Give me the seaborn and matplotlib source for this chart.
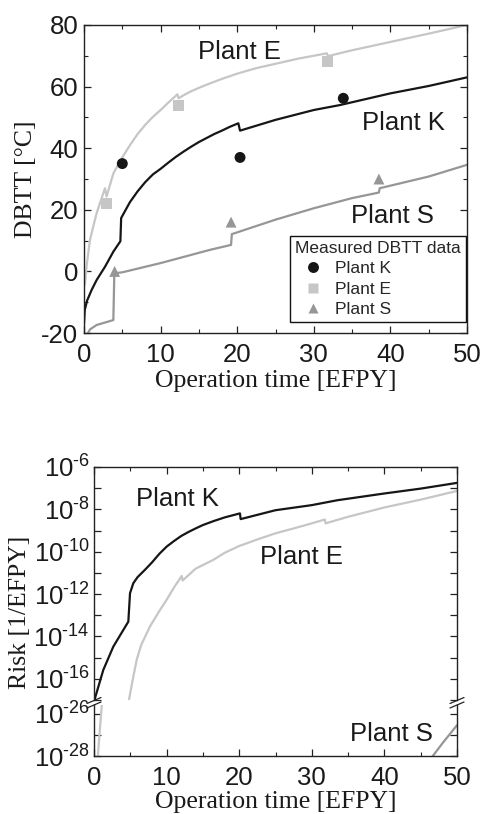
import numpy as np
import pandas as pd
import seaborn as sns
import matplotlib.pyplot as plt
from matplotlib.ticker import MultipleLocator, FixedLocator, FuncFormatter
from matplotlib.lines import Line2D

# ---- DBTT curves (top panel) ----
time_k = [0, 0.1, 0.4, 1.0, 1.65, 2.74, 3.83, 4.75, 4.85, 5.0, 6.0, 7.0, 8.0, 9.0, 10.0, 11.0,
          12.0, 13.0, 14.0, 15.0, 16.0, 17.0, 18.0, 19.0, 20.15, 20.37, 25.0, 30.0, 33.4, 40.0,
          45.0, 50.0]
dbtt_k = [-17, -12.5, -9.5, -6.0, -2.8, 1.5, 6.4, 9.8, 17.3, 18.0, 22.5, 26.0, 29.0, 31.5, 33.3,
          35.3, 37.2, 38.9, 40.5, 42.0, 43.3, 44.6, 45.7, 46.9, 48.1, 45.7, 49.2, 52.4, 54.0, 57.8,
          60.2, 63.0]

time_e = [0, 0.13, 0.4, 0.78, 1.2, 1.65, 2.2, 2.74, 2.95, 3.83, 4.92, 6.0, 7.0, 8.0, 9.0, 10.0,
          11.0, 12.2, 12.35, 13.0, 14.0, 15.0, 16.0, 18.0, 20.0, 22.5, 25.0, 28.0, 31.7, 31.85,
          35.0, 40.0, 45.0, 50.0]
dbtt_e = [-5, -3.9, 3.0, 10.2, 14.5, 18.9, 23.0, 27.0, 24.3, 31.8, 36.7, 41.0, 44.6, 47.6, 50.2,
          52.4, 54.8, 57.5, 56.2, 57.2, 58.5, 59.6, 60.6, 62.5, 64.2, 66.0, 67.4, 69.1, 70.8, 69.9,
          71.8, 74.5, 77.2, 80.0]

time_s = [0.4, 0.8, 1.65, 3.83, 3.96, 5.0, 10.0, 16.45, 19.2, 19.3, 25.0, 30.0, 35.0, 38.5, 38.6,
          45.0, 50.0]
dbtt_s = [-20.5, -18.8, -17.4, -15.8, -0.6, -0.3, 2.7, 7.0, 8.6, 12.1, 16.8, 20.5, 23.8, 25.6, 27.0,
          30.8, 34.6]

# measured DBTT data
meas_plant = ["Plant K"] * 3 + ["Plant E"] * 3 + ["Plant S"] * 3
meas_time = [5.0, 20.37, 33.85, 2.9, 12.3, 31.8, 4.0, 19.2, 38.5]
meas_dbtt = [35.0, 37.0, 56.2, 22.0, 54.0, 68.0, 0.0, 16.0, 30.0]

# ---- Risk curves (bottom panel), log10 of risk [1/EFPY] ----
rtime_k = [0.0, 0.14, 1.28, 2.66, 4.73, 4.96, 5.41, 6.0, 7.0, 8.0, 9.0, 10.0, 11.0, 12.0, 13.0,
           14.0, 15.0, 16.5, 18.0, 20.1, 20.2, 25.0, 30.0, 33.5, 40.0, 45.0, 50.0]
rlog_k = [-18.0, -16.91, -15.58, -14.48, -13.3, -11.96, -11.49, -11.2, -10.86, -10.5, -10.1, -9.76,
          -9.5, -9.26, -9.07, -8.9, -8.74, -8.55, -8.38, -8.19, -8.46, -8.04, -7.80, -7.57, -7.25,
          -7.02, -6.75]

rtime_e = [0.45, 0.75, 1.1, 4.73, 5.3, 5.88, 6.5, 7.71, 9.0, 10.0, 11.0, 12.08, 12.2, 14.0, 16.4,
           18.0, 20.0, 22.5, 25.0, 27.5, 30.0, 31.8, 31.9, 35.0, 40.0, 45.0, 50.0]
rlog_e = [-28.4, -27.0, -25.5, -17.15, -16.1, -15.1, -14.4, -13.53, -12.8, -12.27, -11.7, -11.14,
          -11.36, -10.8, -10.39, -10.05, -9.73, -9.42, -9.13, -8.9, -8.66, -8.48, -8.66, -8.35,
          -7.91, -7.54, -7.13]

rtime_s = [46.0, 48.0, 50.0]
rlog_s = [-28.3, -27.4, -26.55]

col_k = "#161616"
col_e = "#c6c6c6"
col_s = "#969696"

sns.set_style("ticks", rc={"xtick.direction": "in", "ytick.direction": "in",
                           "xtick.top": True, "ytick.right": True})
plt.rcParams["font.family"] = ["Liberation Sans", "DejaVu Sans"]
plt.rcParams["mathtext.fontset"] = "custom"
plt.rcParams["mathtext.rm"] = "Liberation Sans"
plt.rcParams["mathtext.default"] = "regular"
plt.rcParams["axes.unicode_minus"] = False
plt.rcParams["axes.linewidth"] = 1.0
plt.rcParams["axes.edgecolor"] = "#222222"

W, H = 483, 814
fig = plt.figure(figsize=(W / 100, H / 100), dpi=100)


def rect(l, t, r, b):
    return [l / W, 1 - b / H, (r - l) / W, (b - t) / H]


def style_ticks(ax, size=18.5):
    ax.tick_params(which="both", direction="in", top=True, right=True, colors="#222222",
                   labelsize=size, labelcolor="#1a1a1a")
    ax.tick_params(which="major", length=5, width=0.9)
    ax.tick_params(which="minor", length=3, width=0.8)


serif = ["Liberation Serif", "DejaVu Serif"]
fs_lab = 18.5
fs_txt = 18.5

# ================= top panel =================
ax1 = fig.add_axes(rect(84, 25, 467, 333))
lw = 1.6
sns.lineplot(x=time_e, y=dbtt_e, ax=ax1, color=col_e, lw=lw, sort=False, estimator=None)
sns.lineplot(x=time_k, y=dbtt_k, ax=ax1, color=col_k, lw=lw, sort=False, estimator=None)
sns.lineplot(x=time_s, y=dbtt_s, ax=ax1, color=col_s, lw=lw, sort=False, estimator=None)

meas = pd.DataFrame({"plant": meas_plant, "time": meas_time, "dbtt": meas_dbtt})
sns.scatterplot(data=meas, x="time", y="dbtt", hue="plant", style="plant",
                palette={"Plant K": col_k, "Plant E": col_e, "Plant S": col_s},
                markers={"Plant K": "o", "Plant E": "s", "Plant S": "^"},
                s=62, edgecolor="none", ax=ax1, zorder=5)

ax1.set_xlim(0, 50)
ax1.set_ylim(-20, 80)
ax1.xaxis.set_major_locator(MultipleLocator(10))
ax1.xaxis.set_minor_locator(MultipleLocator(5))
ax1.yaxis.set_major_locator(MultipleLocator(20))
ax1.yaxis.set_minor_locator(MultipleLocator(10))
style_ticks(ax1)
ax1.tick_params(axis="x", pad=7)
ax1.tick_params(axis="y", pad=4)
ax1.set_xlabel("Operation time [EFPY]", family=serif, fontsize=fs_lab, labelpad=2, color="#1a1a1a")
ax1.set_ylabel("DBTT [°C]", family=serif, fontsize=fs_lab, labelpad=3, color="#1a1a1a")

ax1.text(14.9, 71.2, "Plant E", fontsize=fs_txt, va="center", ha="left", color="#1a1a1a")
ax1.text(36.3, 48.2, "Plant K", fontsize=fs_txt, va="center", ha="left", color="#1a1a1a")
ax1.text(34.9, 18.0, "Plant S", fontsize=fs_txt, va="center", ha="left", color="#1a1a1a")

sns.move_legend(ax1, "lower right", bbox_to_anchor=(0.998, 0.035), title="Measured DBTT data",
                frameon=True, fancybox=False, framealpha=1, edgecolor="#111111",
                fontsize=12.5, title_fontsize=12.5, borderaxespad=0, handletextpad=0.3,
                borderpad=0.3, labelspacing=0.3, markerscale=1.0, alignment="left")
ax1.get_legend().get_frame().set_linewidth(1.0)

# ================= bottom panel (broken log axis) =================
ax2 = fig.add_axes(rect(94, 467, 457, 700))
ax3 = fig.add_axes(rect(94, 705, 457, 756))

for ax in (ax2, ax3):
    sns.lineplot(x=rtime_e, y=10.0 ** np.array(rlog_e), ax=ax, color=col_e, lw=lw,
                 sort=False, estimator=None)
    sns.lineplot(x=rtime_k, y=10.0 ** np.array(rlog_k), ax=ax, color=col_k, lw=lw,
                 sort=False, estimator=None)
    sns.lineplot(x=rtime_s, y=10.0 ** np.array(rlog_s), ax=ax, color=col_s, lw=lw,
                 sort=False, estimator=None)
    ax.set_yscale("log")
    ax.set_xlim(0, 50)
    ax.xaxis.set_major_locator(MultipleLocator(10))
    ax.xaxis.set_minor_locator(MultipleLocator(5))
    style_ticks(ax)
    ax.set_ylabel("")
    ax.set_xlabel("")


def even_exp(v, pos):
    e = int(round(np.log10(v)))
    return f"$10^{{\\text{{{e}}}}}$" if e % 2 == 0 else ""


ax2.set_ylim(1e-17, 1e-6)
ax2.yaxis.set_major_locator(FixedLocator([10.0 ** e for e in range(-17, -5)]))
ax2.yaxis.set_minor_locator(FixedLocator([]))
ax2.yaxis.set_major_formatter(FuncFormatter(even_exp))
ax2.spines["bottom"].set_visible(False)
ax2.tick_params(axis="x", which="both", bottom=False, labelbottom=False)
ax2.tick_params(axis="y", pad=3)

ax3.set_ylim(1e-28, 10 ** -25.6)
ax3.yaxis.set_major_locator(FixedLocator([1e-28, 1e-27, 1e-26]))
ax3.yaxis.set_minor_locator(FixedLocator([]))
ax3.yaxis.set_major_formatter(FuncFormatter(even_exp))
ax3.spines["top"].set_visible(False)
ax3.tick_params(axis="x", which="both", top=False)
ax3.tick_params(axis="x", pad=7)
ax3.tick_params(axis="y", pad=3)
ax3.set_xlabel("Operation time [EFPY]", family=serif, fontsize=fs_lab, labelpad=1, color="#1a1a1a")

fig.text(20 / W, 1 - 612 / H, "Risk [1/EFPY]", family=serif, fontsize=fs_lab, rotation=90,
         ha="center", va="center", color="#1a1a1a")

ax2.text(5.8, 10 ** -7.5, "Plant K", fontsize=fs_txt, va="center", ha="left", color="#1a1a1a")
ax2.text(22.9, 10 ** -10.25, "Plant E", fontsize=fs_txt, va="center", ha="left", color="#1a1a1a")
ax3.text(35.3, 10 ** -26.98, "Plant S", fontsize=fs_txt, va="center", ha="left", color="#1a1a1a")

# break marks on both spines
for xp in (94, 457):
    for yp in (700.5, 705.0):
        fig.add_artist(Line2D([(xp - 7) / W, (xp + 7) / W], [1 - (yp + 3) / H, 1 - (yp - 3) / H],
                              transform=fig.transFigure, color="#222222", lw=0.9))

fig.savefig("out.png", dpi=100)
